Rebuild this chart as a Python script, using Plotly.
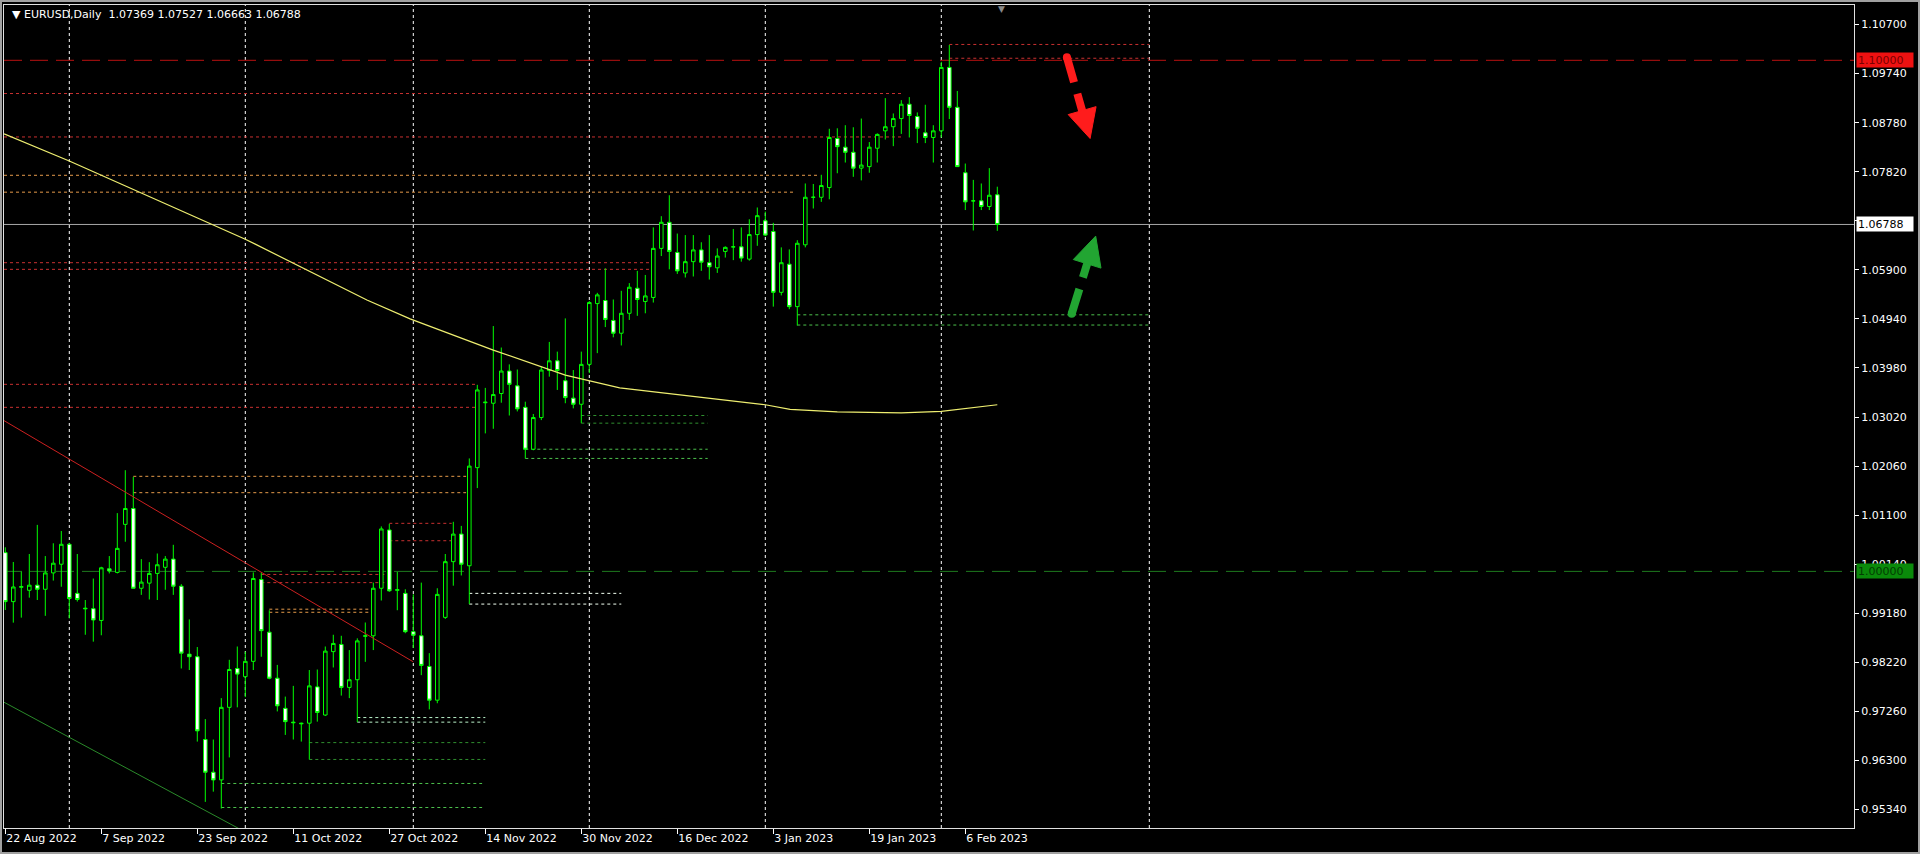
import math
import plotly.graph_objects as go

# ---------------- data ----------------
symbol = "EURUSD,Daily"
bar_index = list(range(125))  # trading days from 22 Aug 2022 to 10 Feb 2023

open_ = [1.00367, 0.99408, 0.99690, 0.99630, 0.99730, 0.99650, 0.99970, 1.00140, 1.00530, 0.99570,
         0.99280, 0.99270, 0.99040, 1.00050, 0.99980, 1.00920, 1.01230, 0.99670, 0.99770, 0.99960,
         1.00080, 1.00240, 0.99710, 0.98380, 0.98330, 0.96710, 0.96070, 0.95920, 0.97340, 0.98100,
         0.97940, 0.98240, 0.99840, 0.98810, 0.97910, 0.97320, 0.97050, 0.97030, 0.97030, 0.97740,
         0.97190, 0.98430, 0.98570, 0.97730, 0.97880, 0.98730, 0.98740, 0.99670, 1.00810, 0.99630,
         0.99570, 0.98820, 0.98740, 0.98140, 0.97480, 0.99100, 1.00190, 1.00730, 1.00110, 1.02030,
         1.03300, 1.03290, 1.03480, 1.03920, 1.03630, 1.03210, 1.02390, 1.03010, 1.03930, 1.04120,
         1.03730, 1.03390, 1.03270, 1.04050, 1.05240, 1.05300, 1.04910, 1.04660, 1.05050, 1.05540,
         1.05280, 1.05360, 1.06320, 1.06830, 1.06240, 1.05840, 1.06060, 1.06290, 1.06040, 1.05940,
         1.06260, 1.06350, 1.06350, 1.06110, 1.06590, 1.06860, 1.06650, 1.05460, 1.06010, 1.05180,
         1.06390, 1.07320, 1.07320, 1.07510, 1.08470, 1.08300, 1.08200, 1.07890, 1.07920, 1.08280,
         1.08620, 1.08700, 1.08860, 1.09140, 1.08900, 1.08580, 1.08490, 1.08620, 1.09860, 1.09080,
         1.07800, 1.07250, 1.07250, 1.07140, 1.07369]
high_ = [1.00471, 1.00184, 0.99995, 1.00340, 1.00910, 1.00300, 1.00550, 1.00790, 1.00560, 1.00340,
         0.99440, 0.99860, 1.00090, 1.00300, 1.01140, 1.01980, 1.01850, 1.00240, 1.00180, 1.00350,
         1.00300, 1.00520, 0.99750, 0.99060, 0.98520, 0.97110, 0.96710, 0.97520, 0.98270, 0.98530,
         0.98430, 0.99980, 0.99980, 0.99240, 0.98170, 0.97550, 0.97760, 0.97040, 0.98070, 0.98080,
         0.98530, 0.98760, 0.98740, 0.98460, 0.98690, 0.99000, 0.99780, 1.00880, 1.00930, 0.99990,
         0.99650, 0.99550, 0.99780, 0.98400, 0.99670, 1.00340, 1.00970, 1.00890, 1.02210, 1.03650,
         1.03590, 1.04800, 1.04380, 1.04050, 1.03950, 1.03320, 1.03080, 1.04010, 1.04490, 1.04300,
         1.04950, 1.03940, 1.04300, 1.05290, 1.05450, 1.05930, 1.05320, 1.05490, 1.05640, 1.05880,
         1.05800, 1.06730, 1.06950, 1.07360, 1.06610, 1.06580, 1.06580, 1.06440, 1.06580, 1.06320,
         1.06360, 1.06700, 1.06730, 1.06890, 1.07120, 1.07040, 1.06820, 1.06340, 1.06300, 1.06480,
         1.07590, 1.07580, 1.07760, 1.08660, 1.08670, 1.08730, 1.08690, 1.08860, 1.08400, 1.08570,
         1.09260, 1.08960, 1.09220, 1.09280, 1.08980, 1.09130, 1.08730, 1.09970, 1.10300, 1.09400,
         1.07980, 1.07660, 1.07590, 1.07890, 1.07527]
low_ = [0.99245, 0.98997, 0.99095, 0.99486, 0.99440, 0.99130, 0.99820, 0.99700, 0.99080, 0.99410,
        0.98760, 0.98625, 0.98750, 0.99960, 0.99960, 1.00580, 0.99670, 0.99540, 0.99450, 0.99440,
        0.99640, 0.99540, 0.98100, 0.98070, 0.96670, 0.95490, 0.95690, 0.95360, 0.96360, 0.97340,
        0.97540, 0.98070, 0.98330, 0.97890, 0.97260, 0.96800, 0.96710, 0.96670, 0.96320, 0.97060,
        0.97170, 0.98120, 0.97570, 0.97520, 0.97050, 0.98230, 0.98460, 0.99430, 0.99600, 0.99240,
        0.98790, 0.98500, 0.97970, 0.97300, 0.97420, 0.99070, 0.99720, 0.99920, 0.99360, 1.01630,
        1.02700, 1.02790, 1.03300, 1.03050, 1.03130, 1.02210, 1.02370, 1.02960, 1.03810, 1.03550,
        1.03290, 1.03190, 1.02900, 1.03880, 1.04270, 1.04780, 1.04580, 1.04420, 1.04920, 1.05000,
        1.05050, 1.05260, 1.06170, 1.05910, 1.05820, 1.05750, 1.05770, 1.05880, 1.05710, 1.05840,
        1.06140, 1.06090, 1.06060, 1.06080, 1.06370, 1.06560, 1.05180, 1.05400, 1.05130, 1.04810,
        1.06340, 1.07100, 1.07230, 1.07280, 1.07790, 1.08000, 1.07720, 1.07650, 1.07800, 1.08000,
        1.08450, 1.08320, 1.08560, 1.08490, 1.08380, 1.08380, 1.08000, 1.08490, 1.08850, 1.07920,
        1.07070, 1.06670, 1.07070, 1.07070, 1.06663]
close_ = [0.99408, 0.99695, 0.99700, 0.99730, 0.99650, 0.99970, 1.00160, 1.00530, 0.99470, 0.99450,
          0.99270, 0.99050, 1.00070, 1.00010, 1.00450, 1.01230, 0.99670, 0.99790, 0.99960, 1.00130,
          1.00240, 0.99710, 0.98400, 0.98330, 0.96880, 0.96070, 0.95920, 0.97340, 0.98080, 0.97990,
          0.98240, 0.99860, 0.98840, 0.97910, 0.97370, 0.97060, 0.97040, 0.97020, 0.97760, 0.97240,
          0.98440, 0.98590, 0.97730, 0.97880, 0.98640, 0.98740, 0.99670, 1.00830, 0.99620, 0.99640,
          0.98820, 0.98750, 0.98160, 0.97480, 0.99550, 1.00190, 1.00730, 1.00140, 1.02060, 1.03550,
          1.03310, 1.03460, 1.03920, 1.03660, 1.03180, 1.02390, 1.03010, 1.03940, 1.04120, 1.03930,
          1.03400, 1.03270, 1.04050, 1.05260, 1.05410, 1.04930, 1.04660, 1.05050, 1.05560, 1.05320,
          1.05390, 1.06320, 1.06830, 1.06260, 1.05880, 1.06060, 1.06290, 1.06050, 1.05960, 1.06170,
          1.06340, 1.06350, 1.06130, 1.06590, 1.06960, 1.06580, 1.05460, 1.06040, 1.05180, 1.06420,
          1.07320, 1.07320, 1.07550, 1.08490, 1.08310, 1.08200, 1.07890, 1.07950, 1.08300, 1.08550,
          1.08700, 1.08860, 1.09140, 1.08920, 1.08670, 1.08490, 1.08620, 1.09860, 1.09080, 1.07920,
          1.07230, 1.07250, 1.07140, 1.07360, 1.06788]

tick_bars = [0, 12, 24, 36, 48, 60, 72, 84, 96, 108, 120]
tick_labels = ["22 Aug 2022", "7 Sep 2022", "23 Sep 2022", "11 Oct 2022", "27 Oct 2022",
               "14 Nov 2022", "30 Nov 2022", "16 Dec 2022", "3 Jan 2023", "19 Jan 2023", "6 Feb 2023"]
month_start_bars = [8, 30, 51, 73, 95, 117]
marker_vline_bar = 143

price_ticks = [1.10700, 1.09740, 1.08780, 1.07820, 1.06860, 1.05900, 1.04940, 1.03980, 1.03020,
               1.02060, 1.01100, 1.00140, 0.99180, 0.98220, 0.97260, 0.96300, 0.95340]
price_tick_labels = ["1.10700", "1.09740", "1.08780", "1.07820", "1.06860", "1.05900", "1.04940",
                     "1.03980", "1.03020", "1.02060", "1.01100", "1.00140", "0.99180", "0.98220",
                     "0.97260", "0.96300", "0.95340"]

# moving average (read at several bars)
ma_bars = [-0.16, 8, 30, 45.2, 50.6, 61, 70, 76.8, 95, 98.1, 104, 112, 117, 124]
ma_values = [1.0856, 1.0803, 1.0650, 1.0531, 1.0494, 1.0433, 1.0384, 1.0359, 1.0326, 1.0317,
             1.0312, 1.0310, 1.0313, 1.0326]

# trend lines (anchor bar, price)
red_trend_bars = [-0.16, 51.0]
red_trend_prices = [1.0295, 0.9823]
green_trend_bars = [-0.16, 30.0]
green_trend_prices = [0.9744, 0.9490]

# alert levels (full width)
resistance_level = 1.10000
support_level = 1.00000
bid_price = close_[-1]

# short horizontal levels: (price, from bar, to bar)
red_levels = [(1.0935, -1, 112), (1.0850, -1, 112), (1.0604, -1, 80.6), (1.0591, -1, 80.6),
              (1.0366, -1, 59), (1.0321, -1, 59), (1.0094, 48, 55.8), (1.0060, 48, 55.8),
              (0.9994, 32, 47.8), (0.9978, 32, 47.8), (1.1031, 118, 143), (1.1004, 118, 143)]
orange_levels = [(1.0775, -1, 101.5), (1.0742, -1, 98.5), (1.0186, 16, 57.6), (1.0154, 16, 57.6),
                 (0.9926, 33, 46), (0.9920, 33, 46)]
green_levels = [(1.0502, 99, 143), (1.0482, 99, 143), (1.0239, 65, 87.8), (1.0221, 65, 87.8),
                (0.9585, 27, 59.6), (0.9538, 27, 59.6)]
dark_green_levels = [(1.0305, 72, 87.8), (1.0290, 72, 87.8), (0.9665, 38, 60), (0.9632, 38, 60)]
pale_green_levels = [(0.9714, 44, 60), (0.9705, 44, 60)]
white_levels = [(0.9957, 58, 77), (0.9936, 58, 77)]

# hand-drawn arrows: (start bar, start price) -> (tip bar, tip price)
red_arrow = ((132.7, 1.1006), (135.6, 1.0847))
green_arrow = ((133.3, 1.0504), (136.3, 1.0656))

# ---------------- layout geometry ----------------
W, H = 1920, 854
M_L, M_R, M_T, M_B = 4, 66, 5, 26
PW, PH = W - M_L - M_R, H - M_T - M_B
x_range = [-0.1625, 231.0875]
y_range = [0.94979, 1.11082]
FONT = "DejaVu Sans"


def to_px(b, p):
    x = M_L + (b - x_range[0]) / (x_range[1] - x_range[0]) * PW
    y = M_T + PH - (p - y_range[0]) / (y_range[1] - y_range[0]) * PH
    return x, y


def to_data(x, y):
    b = x_range[0] + (x - M_L) / PW * (x_range[1] - x_range[0])
    p = y_range[0] + (M_T + PH - y) / PH * (y_range[1] - y_range[0])
    return b, p


def paper_x(px):
    return (px - M_L) / PW


def paper_y(py):
    return (M_T + PH - py) / PH


fig = go.Figure()

fig.add_trace(go.Candlestick(
    x=bar_index, open=open_, high=high_, low=low_, close=close_,
    increasing=dict(line=dict(color="#00ff00", width=1), fillcolor="#000000"),
    decreasing=dict(line=dict(color="#00ff00", width=1), fillcolor="#ffffff"),
    whiskerwidth=0, hoverinfo="skip", showlegend=False))

fig.add_trace(go.Scatter(x=ma_bars, y=ma_values, mode="lines",
                         line=dict(color="#eeee70", width=1.2), hoverinfo="skip", showlegend=False))
fig.add_trace(go.Scatter(x=red_trend_bars, y=red_trend_prices, mode="lines",
                         line=dict(color="#cc2020", width=1), hoverinfo="skip", showlegend=False))
fig.add_trace(go.Scatter(x=green_trend_bars, y=green_trend_prices, mode="lines",
                         line=dict(color="#2a8a2a", width=1), hoverinfo="skip", showlegend=False))


def add_arrow(arrow, color):
    (sb, sp), (tb, tp) = arrow
    sx, sy = to_px(sb, sp)
    tx, ty = to_px(tb, tp)
    dx, dy = tx - sx, ty - sy
    L = math.hypot(dx, dy)
    ux, uy = dx / L, dy / L
    head_len, head_half = 29.0, 14.5
    bx, by = tx - ux * head_len, ty - uy * head_len
    lx, ly = bx - uy * head_half, by + ux * head_half
    rx, ry = bx + uy * head_half, by - ux * head_half
    ex, ey = bx + ux * 2, by + uy * 2
    s_d = to_data(sx, sy)
    e_d = to_data(ex, ey)
    fig.add_trace(go.Scatter(x=[s_d[0], e_d[0]], y=[s_d[1], e_d[1]], mode="lines",
                             line=dict(color=color, width=8, dash="26px,12px"),
                             hoverinfo="skip", showlegend=False))
    fig.add_trace(go.Scatter(x=[s_d[0]], y=[s_d[1]], mode="markers",
                             marker=dict(color=color, size=8, line=dict(width=0)),
                             hoverinfo="skip", showlegend=False))
    pts = [to_data(tx, ty), to_data(lx, ly), to_data(rx, ry), to_data(tx, ty)]
    fig.add_trace(go.Scatter(x=[p[0] for p in pts], y=[p[1] for p in pts], mode="lines",
                             fill="toself", fillcolor=color, line=dict(color=color, width=1),
                             hoverinfo="skip", showlegend=False))


add_arrow(red_arrow, "#ff1c1c")
add_arrow(green_arrow, "#22a532")

shapes = []
for b in month_start_bars + [marker_vline_bar]:
    shapes.append(dict(type="line", xref="x", yref="paper", x0=b, x1=b, y0=0, y1=1, layer="below",
                       line=dict(color="#ffffff", width=1, dash="3px,3px")))


def add_levels(levels, color):
    for price, b0, b1 in levels:
        shapes.append(dict(type="line", xref="x", yref="y", x0=max(b0, x_range[0]), x1=b1,
                           y0=price, y1=price, layer="below",
                           line=dict(color=color, width=1, dash="3px,3px")))


add_levels(red_levels, "#c83030")
add_levels(orange_levels, "#e49a4a")
add_levels(green_levels, "#4cc04c")
add_levels(dark_green_levels, "#2f8f2f")
add_levels(pale_green_levels, "#b8f0c8")
add_levels(white_levels, "#f0fff0")

shapes.append(dict(type="line", xref="paper", yref="y", x0=0, x1=1, y0=resistance_level,
                   y1=resistance_level, layer="below",
                   line=dict(color="#bb1111", width=1, dash="18px,8px")))
shapes.append(dict(type="line", xref="paper", yref="y", x0=0, x1=1, y0=support_level,
                   y1=support_level, layer="below",
                   line=dict(color="#1e7a1e", width=1, dash="18px,8px")))
shapes.append(dict(type="line", xref="paper", yref="y", x0=0, x1=1, y0=bid_price, y1=bid_price,
                   layer="below", line=dict(color="#a8a8a8", width=1)))
# window frame around the whole chart
shapes.append(dict(type="rect", xref="paper", yref="paper", x0=paper_x(1), x1=paper_x(W - 1),
                   y0=paper_y(H - 1), y1=paper_y(1), layer="above",
                   line=dict(color="#a0a0a0", width=2)))

annotations = []
header = "▼ %s  %.5f %.5f %.5f %.5f" % (symbol, open_[-1], high_[-1], low_[-1], close_[-1])
annotations.append(dict(xref="paper", yref="paper", x=0, y=1, xanchor="left", yanchor="top",
                        xshift=6, yshift=-1, text=header, showarrow=False,
                        font=dict(color="#ffffff", size=11, family=FONT)))
annotations.append(dict(xref="x", yref="paper", x=124.5, y=1, xanchor="center", yanchor="top",
                        yshift=3, text="▼", showarrow=False,
                        font=dict(color="#8a8a8a", size=9, family=FONT)))
for price, bg, fg in [(resistance_level, "#ee1111", "#7a0000"),
                      (bid_price, "#ffffff", "#000000"),
                      (support_level, "#0a8a0a", "#033d03")]:
    annotations.append(dict(xref="paper", yref="y", x=1, y=price, xanchor="left", yanchor="middle",
                            xshift=2, text="%.5f" % price, showarrow=False, bgcolor=bg,
                            borderpad=1, width=54, height=12, align="left",
                            font=dict(color=fg, size=11, family=FONT)))

fig.update_layout(
    width=W, height=H, margin=dict(l=M_L, r=M_R, t=M_T, b=M_B, pad=0),
    paper_bgcolor="#000000", plot_bgcolor="#000000", showlegend=False, boxgap=0.36,
    shapes=shapes, annotations=annotations, hovermode=False,
    xaxis=dict(range=x_range, tickvals=tick_bars, ticktext=tick_labels, ticks="outside",
               ticklen=5, tickcolor="#ffffff", ticklabelposition="outside right",
               tickfont=dict(color="#ffffff", size=11, family=FONT), showgrid=False,
               zeroline=False, showline=True, linecolor="#e0e0e0", linewidth=1, mirror=True,
               rangeslider=dict(visible=False), fixedrange=True),
    yaxis=dict(range=y_range, side="right", tickvals=price_ticks, ticktext=price_tick_labels,
               ticks="outside", ticklen=4, tickcolor="#ffffff",
               tickfont=dict(color="#ffffff", size=11, family=FONT), showgrid=False,
               zeroline=False, showline=True, linecolor="#e0e0e0", linewidth=1, mirror=True,
               fixedrange=True),
)

fig.write_html(
    "out.html",
    config={"displayModeBar": False},
    post_script="document.body.style.margin='0';document.body.style.background='#000';"
                "document.body.style.overflow='hidden';",
)
